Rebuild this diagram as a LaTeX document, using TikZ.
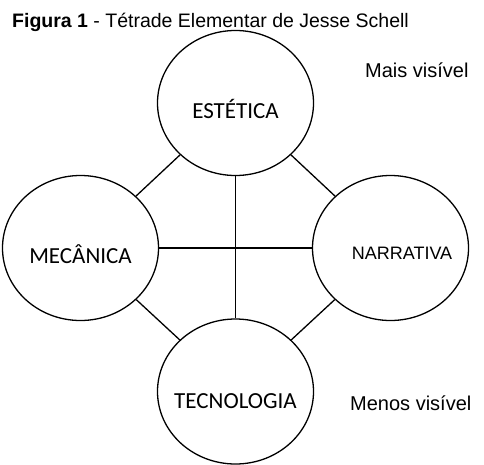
\documentclass[tikz,border=0pt]{standalone}
\usepackage{fontspec}
\setmainfont{Liberation Sans}
\newfontfamily\calibrifont{Carlito}
\usetikzlibrary{shapes.geometric}

\begin{document}
\begin{tikzpicture}[x=1pt,y=-1pt,
        elem/.style={draw,ellipse,line width=1.3pt,minimum width=156pt,minimum height=145pt,inner sep=0pt},
        elemtxt/.style={font=\calibrifont\fontsize{23}{28}\selectfont,text height=14.8pt,text depth=0pt,inner sep=0pt,yshift=-8pt},
        side/.style={anchor=base west,inner sep=0pt,font=\fontsize{20}{24}\selectfont},
        link/.style={line width=1.3pt}]
    \useasboundingbox (0,0) rectangle (484,464);
    \node[anchor=base west,inner sep=0pt,font=\fontsize{19.5}{24}\selectfont] (title) at (12,27) {\textbf{Figura 1} - Tétrade Elementar de Jesse Schell};
    % the four elements
    \node[elem,label={[elemtxt]center:ESTÉTICA}] (est) at (235.5,103) {};
    \node[elem,label={[elemtxt]center:MECÂNICA}] (mec) at (80.5,248) {};
    \node[elem,label={[font=\fontsize{18}{22}\selectfont,text height=12.9pt,text depth=0pt,inner sep=0pt,xshift=11.5pt,yshift=-5pt]center:NARRATIVA}] (nar) at (390.5,248) {};
    \node[elem,label={[elemtxt,yshift=-2pt]center:TECNOLOGIA}] (tec) at (235.5,391.5) {};
    \draw[link] (est) -- (mec);
    \draw[link] (est) -- (nar);
    \draw[link] (mec) -- (tec);
    \draw[link] (nar) -- (tec);
    \draw[link] (est) -- (tec);
    \draw[link] (mec) -- (nar);
    \node[side] (mais) at (365,77) {Mais visível};
    \node[side] (menos) at (350,410) {Menos visível};
\end{tikzpicture}
\end{document}
